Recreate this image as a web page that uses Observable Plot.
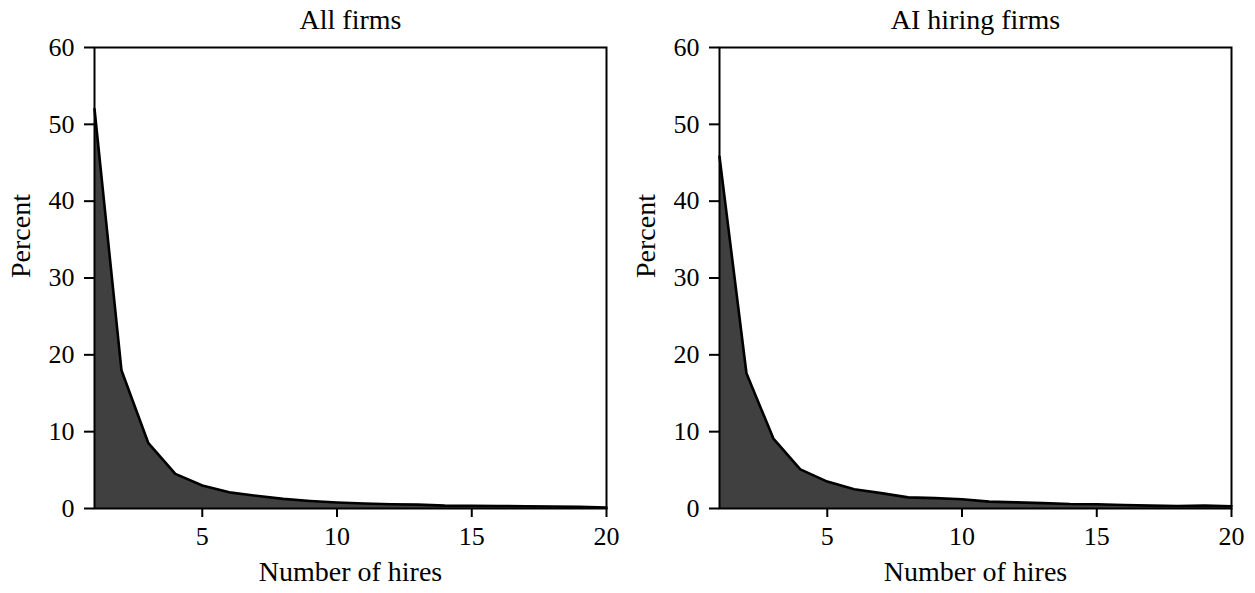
<!DOCTYPE html>
<html>
<head>
<meta charset="utf-8">
<script src="https://cdn.jsdelivr.net/npm/d3@7"></script>
<script src="https://cdn.jsdelivr.net/npm/@observablehq/plot@0.6"></script>
<style>
  html, body { margin: 0; padding: 0; background: #fff; }
  #wrap { display: flex; flex-direction: row; }
  svg { font-family: "Liberation Serif", "DejaVu Serif", serif; }
</style>
</head>
<body>
<div id="wrap"></div>
<script>
const hires = [1,2,3,4,5,6,7,8,9,10,11,12,13,14,15,16,17,18,19,20];
const allFirms = [52.0,18.0,8.5,4.5,3.0,2.1,1.65,1.25,0.98,0.78,0.65,0.55,0.5,0.38,0.35,0.33,0.3,0.27,0.22,0.12];
const aiFirms = [45.8,17.6,9.1,5.1,3.5,2.5,2.0,1.45,1.35,1.2,0.9,0.8,0.7,0.58,0.55,0.45,0.38,0.33,0.38,0.3];
const titles = ["All firms", "AI hiring firms"];
const yTicks = [0,10,20,30,40,50,60];
const xTicks = [5,10,15,20];

function panel(title, values) {
  const data = hires.map((h, i) => ({h, v: values[i]}));
  return Plot.plot({
    width: 625,
    height: 593,
    marginLeft: 94,
    marginRight: 19,
    marginTop: 47,
    marginBottom: 85,
    style: {fontSize: "26px", fontFamily: "'Liberation Serif', 'DejaVu Serif', serif", color: "#000"},
    x: {domain: [1, 20]},
    y: {domain: [0, 60]},
    marks: [
      Plot.areaY(data, {x: "h", y: "v", fill: "#404040"}),
      Plot.lineY(data, {x: "h", y: "v", stroke: "#000", strokeWidth: 2.6}),
      Plot.frame({stroke: "#000", strokeWidth: 2}),
      Plot.axisY({ticks: yTicks, tickSize: 10, tickPadding: 10, strokeWidth: 2, fontSize: 26,
                  label: null}),
      Plot.axisX({ticks: xTicks, tickSize: 9, tickPadding: 9, strokeWidth: 2, fontSize: 26,
                  label: null}),
      Plot.text(["Percent"], {frameAnchor: "left", lineAnchor: "middle", dx: -73, rotate: -90, fontSize: 28, fill: "#000"}),
      Plot.text(["Number of hires"], {frameAnchor: "bottom", lineAnchor: "middle", dy: 64, fontSize: 28, fill: "#000"}),
      Plot.text([title], {frameAnchor: "top", lineAnchor: "middle", dy: -27, fontSize: 28, fill: "#000"})
    ]
  });
}

const wrap = document.getElementById("wrap");
wrap.appendChild(panel(titles[0], allFirms));
wrap.appendChild(panel(titles[1], aiFirms));
</script>
</body>
</html>
